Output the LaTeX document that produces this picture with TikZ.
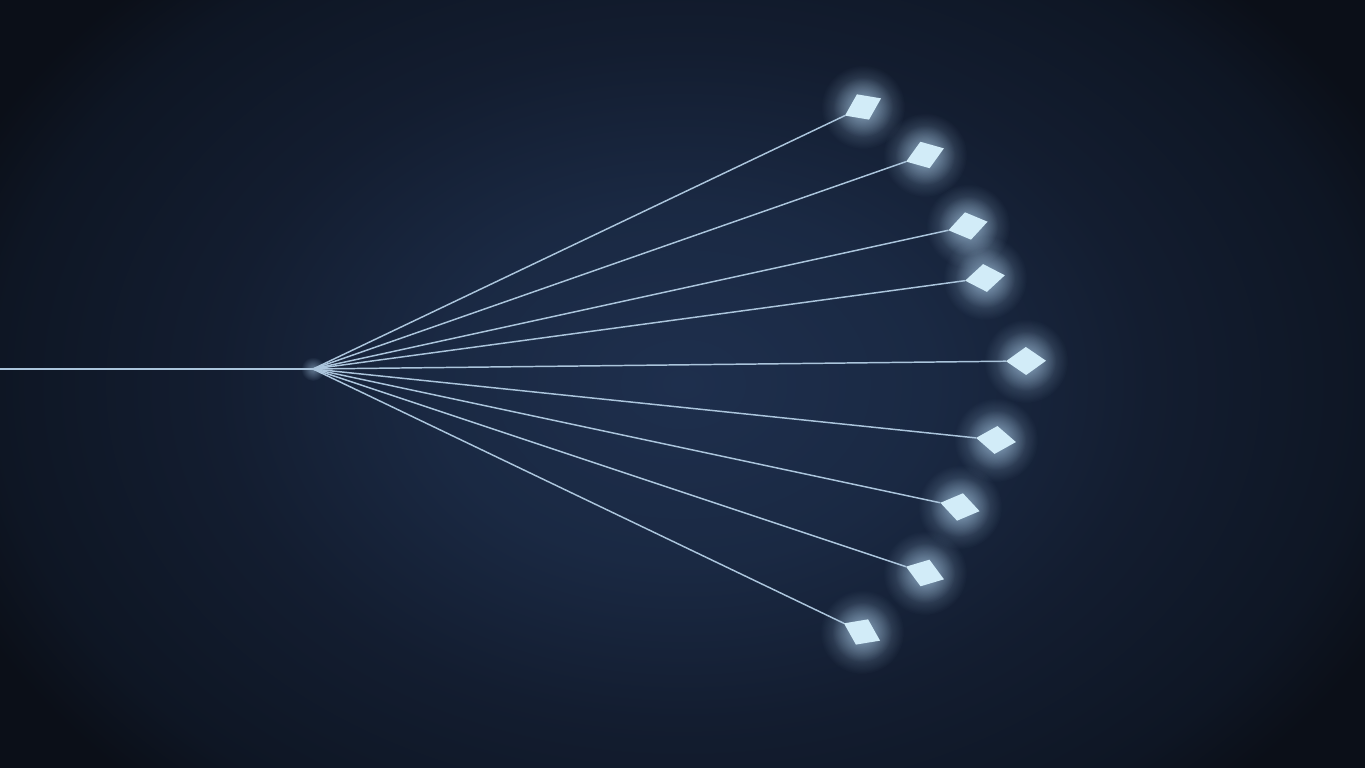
\documentclass[tikz,border=0pt]{standalone}
\usetikzlibrary{positioning,shapes.geometric,fadings}

\definecolor{bgcenter}{HTML}{1E2F4D}
\definecolor{bgmid}{HTML}{1A2943}
\definecolor{bgouter}{HTML}{131D30}
\definecolor{bgside}{HTML}{0E1624}
\definecolor{bgcorner}{HTML}{0B0F18}
\definecolor{wirecol}{HTML}{ABC5DC}
\definecolor{tilecol}{HTML}{D2ECF8}
\definecolor{glowcol}{HTML}{BFE3FF}

\pgfdeclareradialshading{bgglow}{\pgfpoint{0bp}{0bp}}{color(0bp)=(bgcenter); color(8bp)=(bgmid); color(15bp)=(bgouter); color(22bp)=(bgside); color(25bp)=(bgcorner); color(50bp)=(bgcorner)}
\tikzfading[name=glowfade, inner color=transparent!55, outer color=transparent!100]

\tikzset{tile/.style={diamond, fill=tilecol, minimum width=0.4cm,
    minimum height=0.28cm, inner sep=0pt, outer sep=0pt},
  wire/.style={-, draw=wirecol, line width=0.42pt},
  feed/.style={-, draw=wirecol, line width=0.7pt},
  glow/.style={fill=glowcol, path fading=glowfade}
}

\begin{document}
\begin{tikzpicture}[x=0.01cm, y=-0.01cm]

   %Background
   \useasboundingbox (0,0) rectangle (1365,768);
   \fill[bgcorner] (0,0) rectangle (1365,768);
   \begin{scope}
      \clip (0,0) rectangle (1365,768);
      \shade[shading=bgglow] (683,384) ellipse [x radius=780, y radius=560];
   \end{scope}

   %Feed line and hub
   \coordinate (feedStart) at (0,369);
   \coordinate (hub) at (313,369);
   \fill[glow] (hub) circle (0.12cm);
   \draw[feed] (feedStart) -- (hub);

   %Tiles
   \foreach \name/\px/\py in {tileA/863/107, tileB/925/155, tileC/968/226,
       tileD/985/278, tileE/1026/361, tileF/996/440, tileG/960/507,
       tileH/925/573, tileI/862/632}
   {
      \pgfmathsetmacro\ang{atan2(369-\py,\px-313)}
      \fill[glow] (\px,\py) circle (0.42cm);
      \fill[glow] (\px,\py) circle (0.3cm);
      \node[tile, rotate=\ang] (\name) at (\px,\py) {};
      \draw[wire] (hub) -- (\name.west);
   }

\end{tikzpicture}
\end{document}
